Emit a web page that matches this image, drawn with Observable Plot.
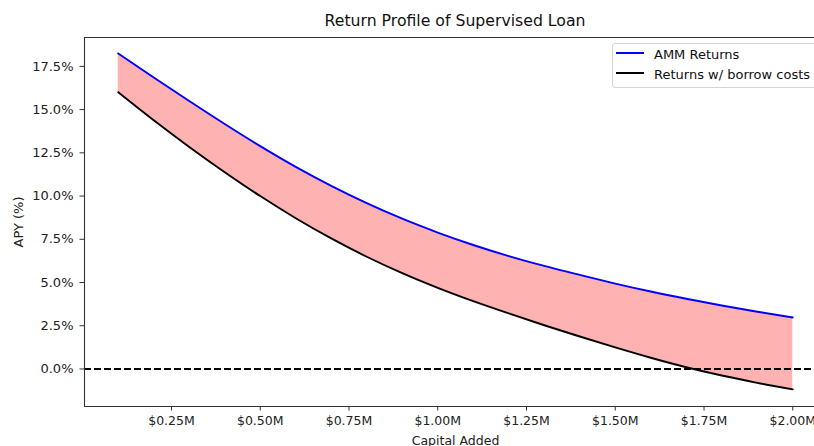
<!DOCTYPE html>
<html>
<head>
<meta charset="utf-8">
<script src="https://cdn.jsdelivr.net/npm/d3@7"></script>
<script src="https://cdn.jsdelivr.net/npm/@observablehq/plot@0.6"></script>
<style>
  body { margin: 0; background: #fff; font-family: "DejaVu Sans", sans-serif; }
  #wrap { position: relative; width: 814px; height: 446px; overflow: hidden; background: #fff; }
  #title { height: 32px; width: 814px; box-sizing: border-box; padding: 12px 0 0 96px; text-align: center;
           font-size: 15.7px; line-height: 18px; color: #111; white-space: nowrap; }
  #legend { position: absolute; left: 612px; top: 43px; width: 230px; height: 45px; box-sizing: border-box;
            border: 1px solid #d4d4d4; border-radius: 3px; background: rgba(255,255,255,0.8); }
  .item { position: absolute; left: 0; width: 100%; height: 20px; }
  .swatch { position: absolute; left: 3px; top: 8.4px; width: 28px; height: 1.9px; }
  .lab { position: absolute; left: 41px; top: 3.2px; font-size: 13px; line-height: 15px; color: #111; white-space: nowrap; }
  #chart svg { display: block; }
</style>
</head>
<body>
<div id="wrap">
  <div id="title"></div>
  <div id="chart"></div>
  <div id="legend"></div>
</div>
<script>
// ---- data ----
const titleText = "Return Profile of Supervised Loan";
const xLabel = "Capital Added";
const yLabel = "APY (%)";

const capital = [0.1, 0.2, 0.3, 0.4, 0.5, 0.6, 0.7, 0.8, 0.9, 1.0,
                 1.1, 1.2, 1.3, 1.4, 1.5, 1.6, 1.7, 1.8, 1.9, 2.0]; // $M
const ammReturns = [18.25, 16.86, 15.50, 14.17, 12.89, 11.69, 10.59, 9.59, 8.69, 7.89,
                    7.17, 6.53, 5.96, 5.44, 4.94, 4.48, 4.06, 3.67, 3.31, 2.98]; // %
const borrowReturns = [16.00, 14.38, 12.84, 11.38, 10.00, 8.72, 7.55, 6.49, 5.54, 4.69,
                       3.92, 3.21, 2.53, 1.88, 1.25, 0.65, 0.10, -0.38, -0.80, -1.18]; // %

const seriesNames = ["AMM Returns", "Returns w/ borrow costs"];
const seriesColors = ["#0000ff", "#000000"];

const xTicks = [0.25, 0.5, 0.75, 1.0, 1.25, 1.5, 1.75, 2.0];
const yTicks = [0, 2.5, 5, 7.5, 10, 12.5, 15, 17.5];
const xDomain = [0.005, 2.095];
const yDomain = [-2.17, 19.17];
const zeroLine = [0];

// ---- build ----
const rows = capital.map((c, i) => ({capital: c, amm: ammReturns[i], borrow: borrowReturns[i]}));

document.getElementById("title").textContent = titleText;

const axisColor = "#333";
const chart = Plot.plot({
  width: 814,
  height: 414,
  marginLeft: 84,
  marginRight: -12,
  marginTop: 5,
  marginBottom: 40,
  style: {fontFamily: "DejaVu Sans", fontSize: "12.5px", color: "#222", background: "white"},
  x: {domain: xDomain},
  y: {domain: yDomain},
  marks: [
    Plot.areaY(rows, {x: "capital", y1: "borrow", y2: "amm", fill: "#ff0000", fillOpacity: 0.3, curve: "monotone-x"}),
    Plot.lineY(rows, {x: "capital", y: "amm", stroke: seriesColors[0], strokeWidth: 1.9, curve: "monotone-x"}),
    Plot.lineY(rows, {x: "capital", y: "borrow", stroke: seriesColors[1], strokeWidth: 1.9, curve: "monotone-x"}),
    Plot.ruleY(zeroLine, {stroke: "black", strokeWidth: 1.8, strokeDasharray: "7,3"}),
    Plot.ruleX([xDomain[0]], {stroke: axisColor, strokeWidth: 1.1}),
    Plot.ruleY(yDomain, {stroke: axisColor, strokeWidth: 1.1}),
    Plot.axisX({ticks: xTicks, tickFormat: d => "$" + d.toFixed(2) + "M", tickSize: 4.5, tickPadding: 5,
                stroke: axisColor, label: xLabel, labelAnchor: "center", labelOffset: 38, labelArrow: "none"}),
    Plot.axisY({ticks: yTicks, tickFormat: d => d.toFixed(1) + "%", tickSize: 4.5, tickPadding: 6.5,
                stroke: axisColor, label: yLabel, labelAnchor: "center", labelOffset: 71, labelArrow: "none",
                fontSize: 13})
  ]
});
document.getElementById("chart").appendChild(chart);

// ---- legend ----
const legend = document.getElementById("legend");
seriesNames.forEach((name, i) => {
  const item = document.createElement("div");
  item.className = "item";
  item.style.top = (i * 20) + "px";
  const sw = document.createElement("div");
  sw.className = "swatch";
  sw.style.background = seriesColors[i];
  const lab = document.createElement("span");
  lab.className = "lab";
  lab.textContent = name;
  item.appendChild(sw);
  item.appendChild(lab);
  legend.appendChild(item);
});
</script>
</body>
</html>
